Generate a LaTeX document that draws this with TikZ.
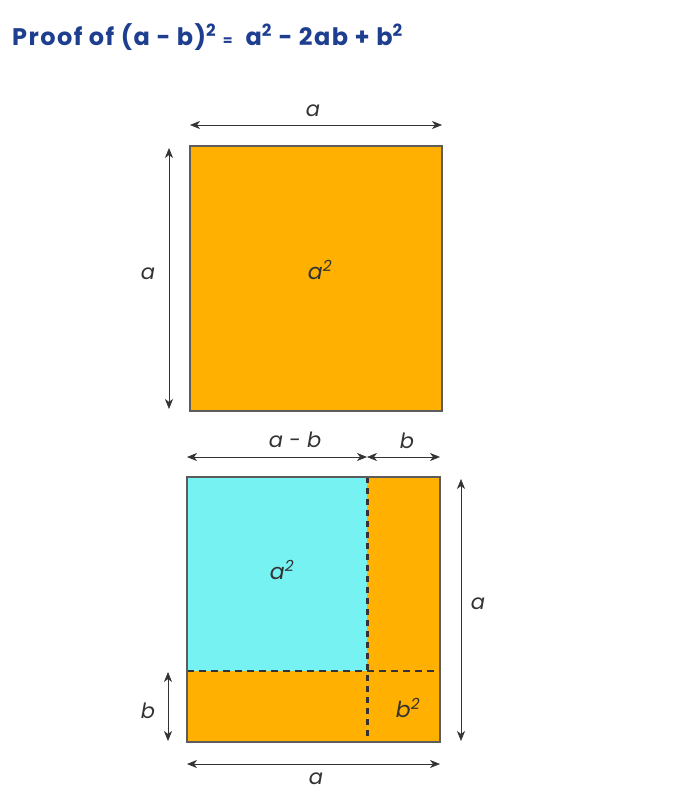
\documentclass[tikz,border=0pt]{standalone}
\usepackage{fontspec}
\setmainfont{Poppins}
\newfontfamily\titlefont[LetterSpace=6]{Poppins}
\usetikzlibrary{arrows.meta}
\definecolor{orng}{HTML}{FFB000}
\definecolor{cyn}{HTML}{77F2F2}
\definecolor{ttl}{HTML}{1E3F8F}
\definecolor{dk}{HTML}{333333}
\tikzset{
  sq/.style={draw=dk!80, line width=1.3pt},
  dim/.style={draw=dk, line width=0.7pt, {Stealth[length=10pt,width=8pt,inset=3pt]}-{Stealth[length=10pt,width=8pt,inset=3pt]}},
  lbl/.style={font=\fontsize{21}{21}\selectfont\itshape, text=dk},
  albl/.style={font=\fontsize{22}{22}\selectfont\itshape, text=dk},
  dsh/.style={draw=dk, line width=3pt, dash pattern=on 6pt off 5pt},
  dshh/.style={draw=dk, line width=2.2pt, dash pattern=on 7pt off 5pt},
}
\begin{document}
\begin{tikzpicture}[x=1pt,y=-1pt]
\useasboundingbox[fill=white] (0,0) rectangle (673,805);
\node[anchor=west, text=ttl, font=\fontsize{24}{24}\titlefont\bfseries, inner sep=0pt] (title) at (12,37) {Proof of (a - b)\textsuperscript{2} {\fontsize{14}{14}\selectfont =} \ a\textsuperscript{2} - 2ab + b\textsuperscript{2}};
% top square
\path[fill=orng] (190,146) rectangle (442,411);
\node[sq, minimum width=252pt, minimum height=265pt, inner sep=0pt] (top) at (316,278.5) {};
\node[albl] (ta2) at (320,270) {a\textsuperscript{2}};
\coordinate (t1) at (190,125); \coordinate (t2) at (442,125);
\draw[dim] (t1) -- (t2);
\node[lbl] (ta) at (313,111) {a};
\coordinate (l1) at (169,148); \coordinate (l2) at (169,409);
\draw[dim] (l1) -- (l2);
\node[lbl] (la) at (148,274) {a};
% bottom square
\path[fill=orng] (187,477) rectangle (440,742);
\path[fill=cyn] (187,477) rectangle (367,671);
\coordinate (v1) at (367,477); \coordinate (v2) at (367,742);
\coordinate (h1) at (187,671); \coordinate (h2) at (440,671);
\draw[dsh] (v1) -- (v2);
\draw[dshh] (h1) -- (h2);
\node[sq, minimum width=253pt, minimum height=265pt, inner sep=0pt] (bot) at (313.5,609.5) {};
\node[albl] (ba2) at (282,570) {a\textsuperscript{2}};
\node[albl] (bb2) at (408,708) {b\textsuperscript{2}};
\coordinate (d1) at (187,457); \coordinate (d2) at (367,457); \coordinate (d3) at (440,457);
\draw[dim] (d1) -- (d2);
\draw[dim] (d2) -- (d3);
\node[lbl] (amb) at (295,440) {a - b};
\node[lbl] (bt) at (407,441) {b};
\coordinate (r1) at (461,479); \coordinate (r2) at (461,741);
\draw[dim] (r1) -- (r2);
\node[lbl] (ra) at (478,604) {a};
\coordinate (s1) at (168,672); \coordinate (s2) at (168,741);
\draw[dim] (s1) -- (s2);
\node[lbl] (sb) at (148,711) {b};
\coordinate (u1) at (187,764); \coordinate (u2) at (440,764);
\draw[dim] (u1) -- (u2);
\node[lbl] (ua) at (316,779) {a};
\end{tikzpicture}
\end{document}
